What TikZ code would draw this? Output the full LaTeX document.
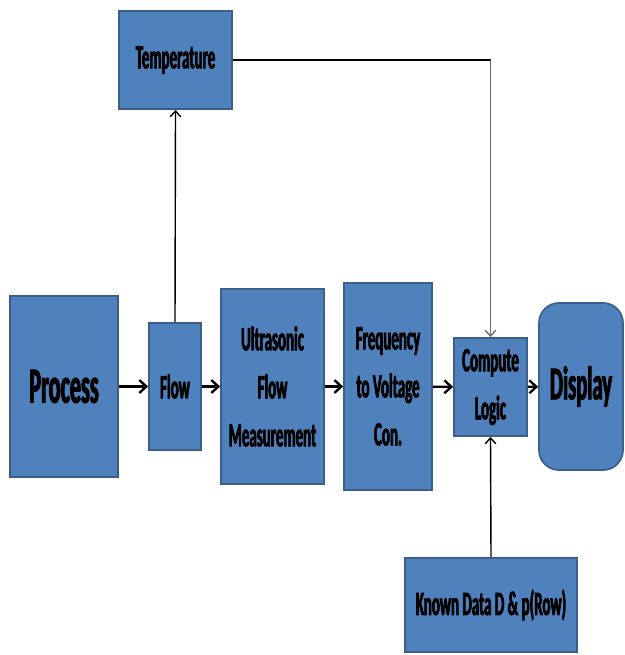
\documentclass[tikz,border=0pt]{standalone}
\usepackage{fontspec}
\newfontfamily\boxfont[FakeStretch=0.44, FakeBold=2]{Carlito}
\usetikzlibrary{calc, arrows.meta}
\definecolor{boxblue}{HTML}{4F81BD}
\definecolor{boxedge}{HTML}{3A5F8C}

\begin{document}
\begin{tikzpicture}[x=0.03cm, y=-0.03cm,
    block/.style={draw=boxedge, line width=1.5pt, fill=boxblue, inner sep=0pt,
        align=center, font=\boxfont\bfseries\fontsize{29}{41}\selectfont},
    bigtext/.style={font=\boxfont\bfseries\fontsize{43}{48}\selectfont},
    mainarrow/.style={-{Straight Barb[length=6pt, width=11pt]}, line width=2pt, black},
    thinarrow/.style={-{Straight Barb[length=5pt, width=9pt]}, line width=1.2pt, black}]
        \useasboundingbox (0,0) rectangle (624,655);

        % main chain
        \node[block, bigtext, minimum width=3.24cm, minimum height=5.43cm] (process) at (64,386.5) {Process};
        \node[block, minimum width=1.56cm, minimum height=3.81cm] (flow) at (175,386.5) {Flow};
        \node[block, minimum width=3.09cm, minimum height=5.85cm] (ultra) at (272.5,386.5) {Ultrasonic\\Flow\\Measurement};
        \node[block, minimum width=2.64cm, minimum height=6.21cm] (freq) at (388,386.5) {Frequency\\to Voltage\\Con.};
        \node[block, minimum width=2.19cm, minimum height=2.94cm] (compute) at (490.5,387) {Compute\\Logic};
        \node[block, rounded corners=0.6cm, font=\boxfont\bfseries\fontsize{40}{46}\selectfont,
            minimum width=2.52cm, minimum height=5.01cm] (display) at (581,386.5) {Display};

        % side inputs
        \node[block, minimum width=3.39cm, minimum height=2.94cm] (temp) at (175.5,60) {Temperature};
        \node[block, minimum width=5.16cm, minimum height=2.82cm] (known) at (491,605) {Known Data D \& p(Row)};

        % arrows along the chain
        \draw[mainarrow] (process) -- (flow);
        \draw[mainarrow] (flow) -- (ultra);
        \draw[mainarrow] (ultra) -- (freq);
        \draw[mainarrow] (freq) -- (compute);
        \draw[mainarrow] (compute) -- (display);

        % temperature loop
        \draw[thinarrow] (flow.north) -- (temp.south);
        \coordinate (corner) at (temp.east -| compute.north);
        \draw[line width=1.3pt] (temp.east) -- (corner);
        \draw[thinarrow, gray!85!black] (corner) -- (compute.north);

        % known data
        \draw[thinarrow] (known.north) -- (compute.south);

    \end{tikzpicture}
\end{document}
